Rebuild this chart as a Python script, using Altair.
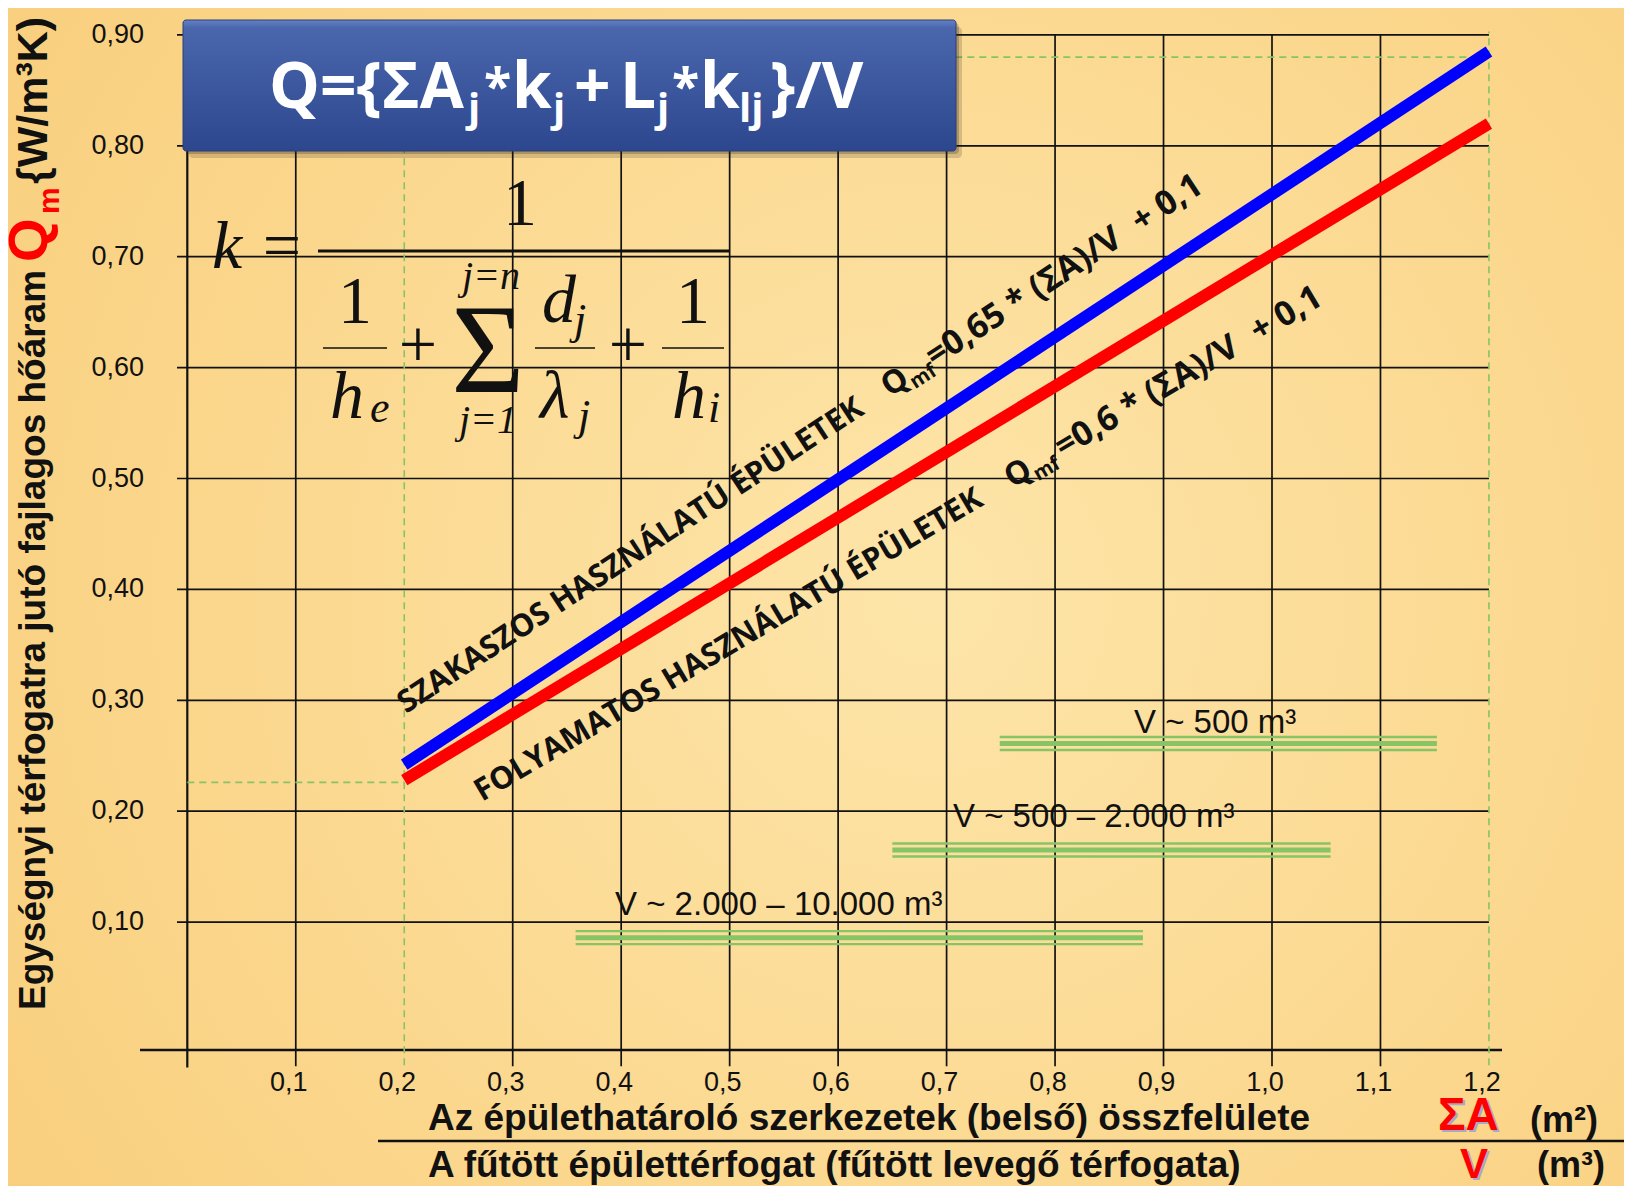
import math
import altair as alt
import pandas as pd

# ---------------- data ----------------
y_ticks = [0.1, 0.2, 0.3, 0.4, 0.5, 0.6, 0.7, 0.8, 0.9]
y_tick_labels = ["0,10", "0,20", "0,30", "0,40", "0,50", "0,60", "0,70", "0,80", "0,90"]
x_ticks = [0.1, 0.2, 0.3, 0.4, 0.5, 0.6, 0.7, 0.8, 0.9, 1.0, 1.1, 1.2]
x_tick_labels = ["0,1", "0,2", "0,3", "0,4", "0,5", "0,6", "0,7", "0,8", "0,9", "1,0", "1,1", "1,2"]
x_grid_solid = [0.1, 0.3, 0.4, 0.5, 0.6, 0.7, 0.8, 0.9, 1.0, 1.1]
x_ref_dashed = [0.2, 1.2]
q_ref_dashed = [0.226, 0.88]
q_ref_dashed_end = [0.2, 1.2]

series = ["SZAKASZOS", "FOLYAMATOS"]
series_colors = ["#0000FF", "#FF0000"]
line_x = [0.2, 1.2]
blue_q = [0.242, 0.885]
red_q = [0.228, 0.820]

v_labels = ["V ~ 500 m³", "V ~ 500 – 2.000 m³", "V ~ 2.000 – 10.000 m³"]
v_start = [0.749, 0.650, 0.358]
v_end = [1.152, 1.054, 0.881]
v_q = [0.261, 0.165, 0.086]

# ---------------- layout ----------------
W, H = 1616, 1178
PX0, PXU = 187.3, 1084.7      # page px of x=0, px per unit
PY0, PYU = 1033.0, 1109.0     # page px of y=0, px per unit


def U(p):
    return (p - PX0) / PXU


def V(p):
    return (PY0 - p) / PYU


XS = alt.Scale(domain=[U(8), U(8 + W)], nice=False, zero=False)
YS = alt.Scale(domain=[V(8 + H), V(8)], nice=False, zero=False)
X = lambda f="x": alt.X(f + ":Q", scale=XS, axis=None)
Y = lambda f="y": alt.Y(f + ":Q", scale=YS, axis=None)

SANS = "Liberation Sans"
OPEN = "Open Sans"
SERIF = "Liberation Serif"
GREEN = "#86C466"
INK = "#111111"


def rules(segs, **kw):
    df = pd.DataFrame(segs, columns=["x", "y", "x2", "y2"])
    return alt.Chart(df).mark_rule(**kw).encode(x=X(), y=Y(), x2="x2:Q", y2="y2:Q")


def prules(segs, **kw):
    return rules([(U(a), V(b), U(c), V(d)) for a, b, c, d in segs], **kw)


def rect(x0, y0, x1, y1, **kw):
    df = pd.DataFrame([(U(x0), V(y1), U(x1), V(y0))], columns=["x", "y", "x2", "y2"])
    return alt.Chart(df).mark_rect(**kw).encode(x=X(), y=Y(), x2="x2:Q", y2="y2:Q")


def texts(rows, font, weight="normal", style="normal", align="left", baseline="alphabetic", **kw):
    data = []
    for r in rows:
        t, x, y, s = r[:4]
        a = r[4] if len(r) > 4 else 0
        c = r[5] if len(r) > 5 else INK
        data.append((t, U(x), V(y), s, a, c))
    df = pd.DataFrame(data, columns=["t", "x", "y", "s", "a", "c"])
    return alt.Chart(df).mark_text(font=font, fontWeight=weight, fontStyle=style,
                                   align=align, baseline=baseline, **kw).encode(
        x=X(), y=Y(), text="t:N",
        size=alt.Size("s:Q", scale=None, legend=None),
        angle=alt.Angle("a:Q", scale=None),
        color=alt.Color("c:N", scale=None, legend=None))


layers = []

# background
layers.append(rect(8, 8, 8 + W, 8 + H, fill={
    "gradient": "radial", "x1": 0.57, "y1": 0.5, "r1": 0, "x2": 0.57, "y2": 0.5, "r2": 0.8,
    "stops": [{"offset": 0, "color": "#FDE5A9"}, {"offset": 0.55, "color": "#FBD78D"},
              {"offset": 1, "color": "#F7CB76"}]}))

# grid
x_left_tick = U(177)
layers.append(rules([(x_left_tick, q, 1.2, q) for q in y_ticks], color=INK, strokeWidth=1.7))
layers.append(rules([(x, -0.030, x, 0.9) for x in x_grid_solid], color=INK, strokeWidth=1.7))
layers.append(rules([(0, -0.031, 0, 0.9)], color=INK, strokeWidth=2.2))
layers.append(rules([(U(140), -0.0153, U(1502), -0.0153)], color=INK, strokeWidth=2.6))
# green dashed reference lines
layers.append(rules([(x, -0.029, x, 0.903) for x in x_ref_dashed], color=GREEN, strokeWidth=1.6, strokeDash=[7, 5]))
layers.append(rules([(0, q, e, q) for q, e in zip(q_ref_dashed, q_ref_dashed_end)],
                    color=GREEN, strokeWidth=1.6, strokeDash=[7, 5]))

# volume ranges (triple green bars: thin / thick / thin)
for off, sw in [(-6.5, 2.4), (0, 5), (6.5, 2.4)]:
    dq = -off / PYU
    layers.append(rules([(s, q + dq, e, q + dq) for s, e, q in zip(v_start, v_end, v_q)],
                        color=GREEN, strokeWidth=sw))
lab_pos = [(1134, 733), (953, 827), (615, 915)]
layers.append(texts([(t, p[0], p[1], 33) for t, p in zip(v_labels, lab_pos)], SANS))

# the two lines
ldf = pd.DataFrame({
    "series": [series[1]] * 2 + [series[0]] * 2,
    "x": line_x + line_x,
    "y": red_q + blue_q,
    "c": [series_colors[1]] * 2 + [series_colors[0]] * 2,
})
layers.append(alt.Chart(ldf).mark_line(strokeWidth=12, strokeCap="butt").encode(
    x=X(), y=Y(), detail="series:N", color=alt.Color("c:N", scale=None, legend=None)))


# rotated labels along the lines
def along(p0, ang, dist, perp=0.0):
    th = math.radians(ang)
    return (p0[0] + dist * math.cos(th) + perp * math.sin(th),
            p0[1] - dist * math.sin(th) + perp * math.cos(th))


rot = []
for p0, ang, pieces in [
    ((406, 714), 33.2, [("SZAKASZOS HASZNÁLATÚ ÉPÜLETEK", 0, 0, 31), ("Q", 578, 0, 32),
                        ("mf", 604, 7, 20), ("=0,65 * (ΣA)/V", 632, 0, 34),
                        ("+ 0,1", 878, 0, 34)]),
    ((482, 802), 30.6, [("FOLYAMATOS HASZNÁLATÚ ÉPÜLETEK", 0, 0, 31), ("Q", 616, 0, 32),
                        ("mf", 642, 7, 20), ("=0,6 * (ΣA)/V", 675, 0, 34),
                        ("+ 0,1", 902, 0, 34)]),
]:
    for t, d, pp, s in pieces:
        x, y = along(p0, ang, d, pp)
        rot.append((t, x, y, s, 360 - ang))
layers.append(texts(rot, OPEN, weight="bold"))

# tick labels
ydf = pd.DataFrame({"y": y_ticks, "t": y_tick_labels, "x": [U(144)] * len(y_ticks)})
layers.append(alt.Chart(ydf).mark_text(font=SANS, fontSize=27, align="right", baseline="middle",
                                       color=INK).encode(x=X(), y=Y(), text="t:N"))
xdf = pd.DataFrame({"x": x_ticks, "t": x_tick_labels, "y": [V(1083)] * len(x_ticks)})
layers.append(alt.Chart(xdf).mark_text(font=SANS, fontSize=27, align="center", baseline="middle",
                                       dx=-7, color=INK).encode(x=X(), y=Y(), text="t:N"))

# y axis title (rotated)
layers.append(texts([
    ("Egységnyi térfogatra jutó fajlagos hőáram", 45, 1010, 37, 270),
    ("Q", 47, 262, 56, 270, "#FF0000"),
    ("m", 59, 214, 30, 270, "#FF0000"),
    ("{W/m³K)", 47, 184, 43, 270),
], SANS, weight="bold"))

# x axis titles
layers.append(prules([(378, 1141, 8 + W, 1141)], color=INK, strokeWidth=2.5))
layers.append(texts([
    ("Az épülethatároló szerkezetek (belső) összfelülete", 428, 1130, 37),
    ("A fűtött épülettérfogat (fűtött levegő térfogata)", 428, 1177, 37),
    ("(m²)", 1530, 1132, 36),
    ("(m³)", 1537, 1177, 36),
    ("ΣA", 1440, 1132, 46, 0, "#A3ABC6"),
    ("V", 1462, 1180, 42, 0, "#A3ABC6"),
    ("ΣA", 1438, 1130, 46, 0, "#FF0000"),
    ("V", 1460, 1178, 42, 0, "#FF0000"),
], SANS, weight="bold"))

# title box
layers.append(rect(189, 27, 962, 158, fill="#2A2416", opacity=0.18, cornerRadius=4))
layers.append(rect(186, 23, 959, 154, fill="#2A2416", opacity=0.25, cornerRadius=4))
layers.append(rect(183, 20, 956, 151, cornerRadius=3, stroke="#2B3F78", strokeWidth=1, fill={
    "gradient": "linear", "x1": 0, "y1": 0, "x2": 0, "y2": 1,
    "stops": [{"offset": 0, "color": "#6582C5"}, {"offset": 0.06, "color": "#4A66AD"},
              {"offset": 1, "color": "#2C478E"}]}))
layers.append(texts([
    ("Q={ΣA", 269, 108, 64, 0, "white"), ("j", 468, 122, 40, 0, "white"),
    ("*", 484, 104, 50, 0, "white"), ("k", 512, 108, 64, 0, "white"),
    ("j", 553, 122, 40, 0, "white"),
    ("+", 574, 108, 64, 0, "white"), ("L", 620, 108, 64, 0, "white"),
    ("j", 657, 122, 40, 0, "white"),
    ("*", 672, 104, 50, 0, "white"), ("k", 700, 108, 64, 0, "white"),
    ("lj", 739, 122, 40, 0, "white"),
    ("}/V", 770, 108, 64, 0, "white"),
], OPEN, weight="bold"))

# k formula
layers.append(prules([(318, 251, 729, 251)], color=INK, strokeWidth=3))
layers.append(prules([(323, 348, 387, 348), (535, 348, 595, 348), (662, 348, 724, 348)],
                     color=INK, strokeWidth=1.6))
layers.append(texts([
    ("k", 212, 268, 68), ("h", 330, 418, 68), ("d", 542, 322, 68), ("λ", 540, 418, 68),
    ("h", 672, 418, 68), ("e", 370, 422, 44), ("j", 574, 334, 44), ("j", 578, 430, 44),
    ("i", 708, 422, 44),
], SERIF, style="italic"))
layers.append(texts([
    ("=", 282, 268, 68), ("1", 520, 225, 68), ("1", 355, 323, 68), ("+", 418, 367, 68),
    ("Σ", 488, 392, 126), ("+", 628, 367, 68), ("1", 693, 323, 68),
], SERIF, align="center"))
layers.append(texts([("j=n", 491, 289, 40), ("j=1", 488, 433, 40)], SERIF, style="italic", align="center"))

chart = alt.layer(*layers).properties(
    width=W, height=H, padding=0, autosize=alt.AutoSizeParams(type="none"),
    background="#FAD68A",
).configure_view(strokeWidth=0)

chart.save("out.html", embed_options={"renderer": "svg", "actions": False})
